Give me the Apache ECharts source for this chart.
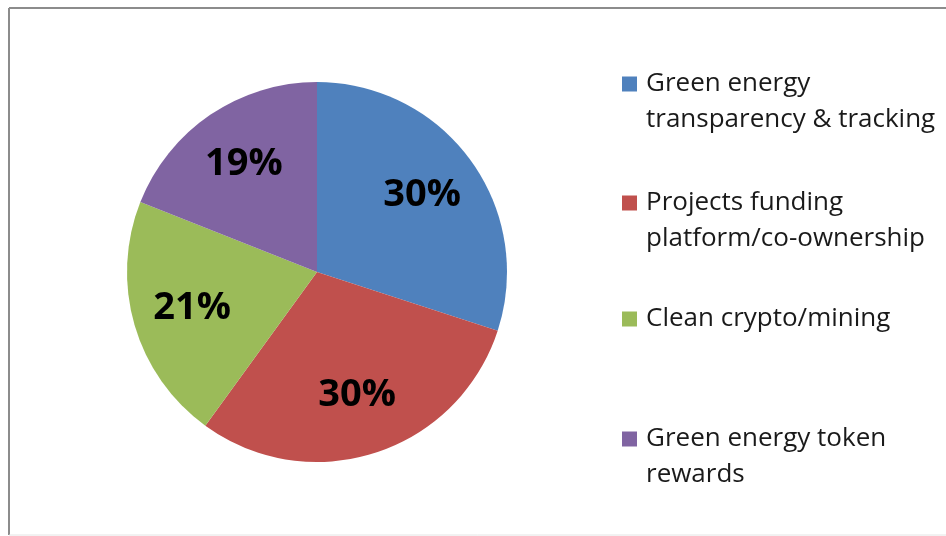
<!DOCTYPE html>
<html>
<head>
<meta charset="utf-8">
<script src="https://cdn.jsdelivr.net/npm/echarts@6/dist/echarts.min.js"></script>
<style>
  html, body { margin: 0; padding: 0; background: #fff; }
  #chart { width: 946px; height: 536px; }
</style>
</head>
<body>
<div id="chart"></div>
<script>
const NAMES = [
    'Green energy\ntransparency & tracking',
    'Projects funding\nplatform/co-ownership',
    'Clean crypto/mining',
    'Green energy token\nrewards'
];
const VALUES = [30, 30, 21, 19];
const COLORS = ['#4F81BD', '#C0504D', '#9BBB59', '#8064A2'];
// icon centre y of each legend entry
const LEGEND_Y = [84, 203, 319, 439];

const FONT = 'Open Sans';
const chart = echarts.init(document.getElementById('chart'));

const pieData = NAMES.map((n, i) => ({ name: n, value: VALUES[i] }));

// one legend per entry, Excel spaces them unevenly.
// two-line names get a blank first line so the icon sits on the first text line
const legends = NAMES.map((n, i) => {
    const twoLine = n.indexOf('\n') >= 0;
    return {
        data: [n],
        orient: 'vertical',
        left: 617,
        top: LEGEND_Y[i] - (twoLine ? 54 : 18) - 5,
        icon: 'rect',
        itemWidth: 15,
        itemHeight: 15,
        itemGap: 0,
        selectedMode: false,
        formatter: name => (twoLine ? ' \n' : '') + name,
        textStyle: {
            fontFamily: FONT,
            fontSize: 26,
            color: '#1a1a1a',
            lineHeight: 36,
            padding: [0, 0, 0, 4]
        }
    };
});

const options = {
    animation: false,
    color: COLORS,
    legend: legends,
    graphic: [
        { type: 'line', shape: { x1: 9, y1: 8, x2: 946, y2: 8 }, style: { stroke: '#8c8c8c', lineWidth: 2 } },
        { type: 'line', shape: { x1: 9, y1: 8, x2: 9, y2: 535 }, style: { stroke: '#8c8c8c', lineWidth: 2 } },
        { type: 'line', shape: { x1: 9, y1: 535, x2: 946, y2: 535 }, style: { stroke: '#e4e4e4', lineWidth: 1 } }
    ],
    series: [
        {
            type: 'pie',
            center: [317, 272],
            radius: 190,
            startAngle: 90,
            data: pieData,
            label: { show: false },
            labelLine: { show: false },
            emphasis: { disabled: true }
        },
        {
            // invisible ring only to place the labels further out
            type: 'pie',
            center: [317, 272],
            radius: [64, 190],
            startAngle: 90,
            silent: true,
            data: pieData,
            itemStyle: { color: 'rgba(0,0,0,0)' },
            label: {
                show: true,
                position: 'inside',
                formatter: p => p.value + '%',
                fontFamily: FONT,
                fontWeight: 'bold',
                fontSize: 38,
                color: '#000'
            },
            labelLine: { show: false },
            emphasis: { disabled: true }
        }
    ]
};
chart.setOption(options, true);
</script>
</body>
</html>
